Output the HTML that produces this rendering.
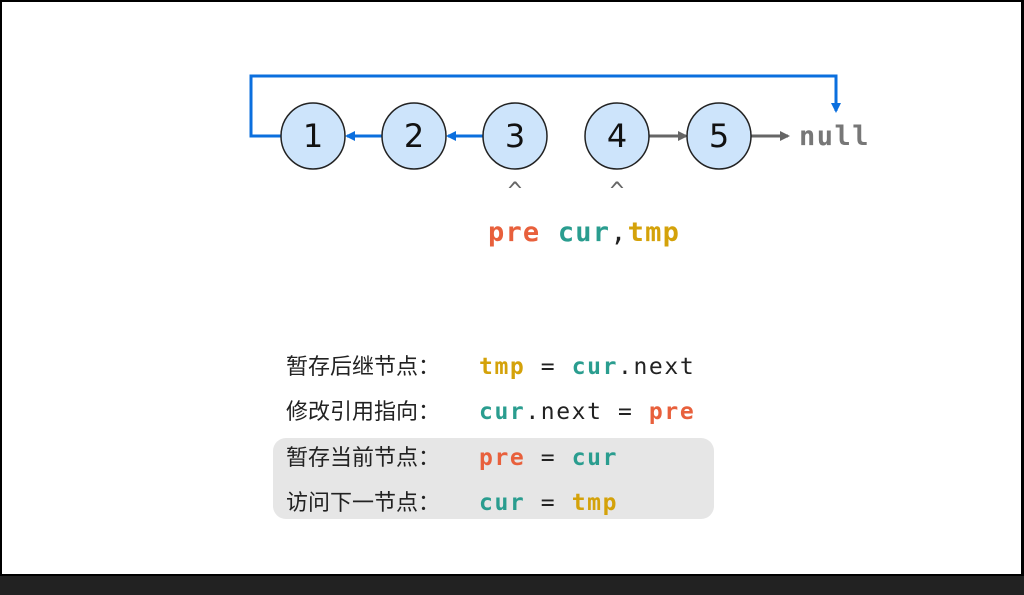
<!DOCTYPE html>
<html><head><meta charset="utf-8"><style>
html,body{margin:0;padding:0;width:1024px;height:595px;overflow:hidden;background:#fff}
.mono{font-family:"DejaVu Sans Mono","Liberation Mono",monospace}
.cjk{font-family:"Liberation Sans","Noto Sans CJK SC",sans-serif}
</style></head><body>
<svg width="1024" height="595" xmlns="http://www.w3.org/2000/svg" style="position:absolute;left:0;top:0">
<defs>
<marker id="ab" markerWidth="10" markerHeight="10" refX="8" refY="5" orient="auto" markerUnits="userSpaceOnUse"><path d="M0,0 L10,5 L0,10 z" fill="#0b6fde"/></marker>
<marker id="ag" markerWidth="10" markerHeight="10" refX="8" refY="5" orient="auto" markerUnits="userSpaceOnUse"><path d="M0,0 L10,5 L0,10 z" fill="#666"/></marker>
</defs>
<rect x="0" y="0" width="1024" height="595" fill="#000"/>
<rect x="2" y="2" width="1019" height="572" fill="#fff"/>
<rect x="0" y="576" width="1024" height="19" fill="#222"/>
<polyline points="282,136 251,136 251,76 836,76 836,111" fill="none" stroke="#0b6fde" stroke-width="3" marker-end="url(#ab)"/>
<line x1="382" y1="136" x2="347" y2="136" stroke="#0b6fde" stroke-width="3" marker-end="url(#ab)"/>
<line x1="484" y1="136" x2="448" y2="136" stroke="#0b6fde" stroke-width="3" marker-end="url(#ab)"/>
<line x1="649" y1="136" x2="686" y2="136" stroke="#666" stroke-width="3" style="marker-end:url(#ag)"/>
<line x1="751" y1="136" x2="788" y2="136" stroke="#666" stroke-width="3" style="marker-end:url(#ag)"/>
<g fill="#cde4fb" stroke="#222" stroke-width="1.5">
<ellipse cx="313" cy="136" rx="32" ry="33"/>
<ellipse cx="414" cy="136" rx="32" ry="33"/>
<ellipse cx="515" cy="136" rx="32" ry="33"/>
<ellipse cx="617" cy="136" rx="32" ry="33"/>
<ellipse cx="719" cy="136" rx="32" ry="33"/>
</g>
<g font-family="DejaVu Sans,Liberation Sans,sans-serif" font-size="32" text-anchor="middle" fill="#111">
<text x="313" y="147">1</text><text x="414" y="147">2</text><text x="515" y="147">3</text><text x="617" y="147">4</text><text x="719" y="147">5</text>
</g>
<text x="799" y="145" class="mono" font-size="27" font-weight="bold" fill="#777" letter-spacing="1.5">null</text>
<text x="515" y="199" class="mono" font-size="24" fill="#666" text-anchor="middle">^</text>
<text x="617" y="199" class="mono" font-size="24" fill="#666" text-anchor="middle">^</text>
<text x="488" y="241" class="mono" font-size="27" font-weight="bold" letter-spacing="1.2"><tspan fill="#e8603c">pre</tspan><tspan fill="#2a9d8f"> cur</tspan><tspan fill="#222" font-weight="normal">,</tspan><tspan fill="#d4a20a">tmp</tspan></text>
<rect x="273" y="438" width="441" height="81" rx="13" fill="#e6e6e6"/>
<g class="cjk" font-size="22" fill="#222">
<text x="286" y="374">暂存后继节点：</text>
<text x="286" y="419">修改引用指向：</text>
<text x="286" y="465">暂存当前节点：</text>
<text x="286" y="510">访问下一节点：</text>
</g>
<g class="mono" font-size="23" fill="#222" letter-spacing="1.6">
<text x="479" y="374"><tspan fill="#d4a20a" font-weight="bold">tmp</tspan> = <tspan fill="#2a9d8f" font-weight="bold">cur</tspan>.next</text>
<text x="479" y="419"><tspan fill="#2a9d8f" font-weight="bold">cur</tspan>.next = <tspan fill="#e8603c" font-weight="bold">pre</tspan></text>
<text x="479" y="465"><tspan fill="#e8603c" font-weight="bold">pre</tspan> = <tspan fill="#2a9d8f" font-weight="bold">cur</tspan></text>
<text x="479" y="510"><tspan fill="#2a9d8f" font-weight="bold">cur</tspan> = <tspan fill="#d4a20a" font-weight="bold">tmp</tspan></text>
</g>
</svg>
</body></html>
